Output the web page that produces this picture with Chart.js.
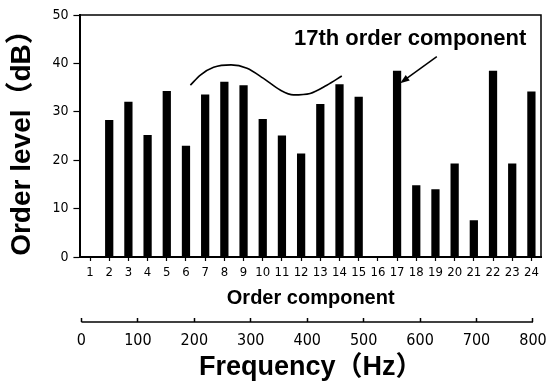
<!DOCTYPE html>
<html>
<head>
<meta charset="utf-8">
<script src="https://cdn.jsdelivr.net/npm/chart.js@4.4.1/dist/chart.umd.min.js"></script>
<style>
  html, body { margin: 0; padding: 0; background: #fff; }
</style>
</head>
<body>
<canvas id="orderChart" width="547" height="387"></canvas>
<script>
// Order components and measured levels (dB); orders 1 and 16 have no bar
const orders = ["1", "2", "3", "4", "5", "6", "7", "8", "9", "10", "11", "12",
  "13", "14", "15", "16", "17", "18", "19", "20", "21", "22", "23", "24"];
const orderLevels = [null, 28.3, 32.1, 25.2, 34.3, 23.0, 33.6, 36.2, 35.5, 28.5, 25.1, 21.4,
  31.6, 35.7, 33.1, null, 38.5, 14.8, 14.0, 19.3, 7.6, 38.5, 19.3, 34.2];
const levelTicks = [0, 10, 20, 30, 40, 50];
const freqTicks = [0, 100, 200, 300, 400, 500, 600, 700, 800];

// Hand-drawn wave over orders 6-14 (order, dB)
const waveOrder = [6.23, 6.75, 7.44, 8.35, 9.18, 10.04, 10.91, 11.6, 12.47, 13.34, 14.12];
const waveLevel = [35.5, 37.6, 39.2, 39.7, 39.0, 36.9, 34.5, 33.5, 33.8, 35.5, 37.4];

// Note and arrow pointing at the 17th order bar (order, dB)
const noteText = "17th order component";
const notePos = [17.68, 45.0];
const arrowOrder = [19.07, 17.16];
const arrowLevel = [41.4, 35.9];

const tickFont = "'Liberation Sans Narrow', 'DejaVu Sans Condensed', 'Liberation Sans', sans-serif";
const boldFont = "'Liberation Sans', 'Noto Sans CJK JP', Arial, sans-serif";

// labels may overhang the plot edges, don't shrink the plot for them
const noSidePadding = s => { s.paddingLeft = 0; s.paddingRight = 0; };

const annotations = {
  id: "annotations",
  beforeDraw(chart) {
    const ctx = chart.ctx;
    ctx.save();
    ctx.fillStyle = "#fff";
    ctx.fillRect(0, 0, chart.width, chart.height);
    ctx.restore();
  },
  afterDraw(chart) {
    const { ctx, chartArea: a, scales } = chart;
    const xl = scales.xl, y = scales.y, xf = scales.xf;
    ctx.save();
    ctx.strokeStyle = "#000";
    ctx.fillStyle = "#000";

    // top and right frame
    ctx.lineWidth = 1.5;
    ctx.beginPath();
    ctx.moveTo(a.left, a.top);
    ctx.lineTo(a.right, a.top);
    ctx.lineTo(a.right, a.bottom);
    ctx.stroke();

    // frequency axis line, only between 0 and 800 Hz
    const f0 = xf.getPixelForValue(freqTicks[0]);
    const f1 = xf.getPixelForValue(freqTicks[freqTicks.length - 1]);
    ctx.beginPath();
    ctx.moveTo(f0, xf.top);
    ctx.lineTo(f1, xf.top);
    ctx.stroke();

    // arrow
    const x1 = xl.getPixelForValue(arrowOrder[0]), y1 = y.getPixelForValue(arrowLevel[0]);
    const x2 = xl.getPixelForValue(arrowOrder[1]), y2 = y.getPixelForValue(arrowLevel[1]);
    const ang = Math.atan2(y2 - y1, x2 - x1);
    ctx.beginPath();
    ctx.moveTo(x1, y1);
    ctx.lineTo(x2 - 6 * Math.cos(ang), y2 - 6 * Math.sin(ang));
    ctx.stroke();
    ctx.beginPath();
    ctx.moveTo(x2, y2);
    ctx.lineTo(x2 - 10 * Math.cos(ang - 0.35), y2 - 10 * Math.sin(ang - 0.35));
    ctx.lineTo(x2 - 10 * Math.cos(ang + 0.35), y2 - 10 * Math.sin(ang + 0.35));
    ctx.closePath();
    ctx.fill();

    // note text
    ctx.font = "bold 22px " + boldFont;
    ctx.textAlign = "center";
    ctx.textBaseline = "middle";
    ctx.fillText(noteText, xl.getPixelForValue(notePos[0]), y.getPixelForValue(notePos[1]));
    ctx.restore();
  }
};

new Chart(document.getElementById("orderChart"), {
  type: "bar",
  data: {
    labels: orders,
    datasets: [
      {
        label: "Order level",
        data: orderLevels,
        backgroundColor: "#000",
        borderWidth: 0,
        grouped: false,
        barPercentage: 0.43,
        categoryPercentage: 1.0
      },
      {
        type: "line",
        label: "wave",
        xAxisID: "xl",
        data: waveOrder.map((o, i) => ({ x: o, y: waveLevel[i] })),
        borderColor: "#000",
        borderWidth: 1.6,
        pointRadius: 0,
        fill: false,
        cubicInterpolationMode: "monotone"
      }
    ]
  },
  options: {
    responsive: false,
    devicePixelRatio: 1,
    animation: false,
    layout: { padding: { left: 0, right: 6, top: 15, bottom: 0 } },
    plugins: { legend: { display: false }, tooltip: { enabled: false } },
    scales: {
      x: {
        position: "bottom",
        offset: true,
        afterFit: noSidePadding,
        grid: { drawOnChartArea: false, offset: false, tickLength: 4, tickColor: "#000", tickWidth: 1.2 },
        border: { color: "#000", width: 2 },
        ticks: { color: "#000", padding: 4, maxRotation: 0, autoSkip: false, font: { family: tickFont, size: 13 } },
        title: {
          display: true, text: "Order component", color: "#000",
          font: { family: boldFont, size: 20, weight: "bold" },
          padding: { top: 1.4, bottom: 12 }
        }
      },
      xf: {
        type: "linear",
        position: "bottom",
        offset: false,
        min: -1.8,
        max: 814.2,
        afterBuildTicks: s => { s.ticks = freqTicks.map(v => ({ value: v })); },
        afterFit: noSidePadding,
        grid: { drawOnChartArea: false, offset: false, tickLength: -4, tickColor: "#000", tickWidth: 1.5 },
        border: { display: false },
        ticks: { color: "#000", padding: 13.4, maxRotation: 0, font: { family: tickFont, size: 16 } },
        title: {
          display: true, text: "Frequency（Hz）", color: "#000",
          font: { family: boldFont, size: 27, weight: "bold" },
          padding: { top: -12.2, bottom: 2.8 }
        }
      },
      xl: {
        type: "linear",
        display: false,
        offset: false,
        min: 0.5,
        max: 24.5
      },
      y: {
        min: 0,
        max: 50,
        afterBuildTicks: s => { s.ticks = levelTicks.map(v => ({ value: v })); },
        grid: { drawOnChartArea: false, tickLength: 7, tickColor: "#000", tickWidth: 1.2 },
        border: { color: "#000", width: 2 },
        ticks: { color: "#000", padding: 5, font: { family: tickFont, size: 14 } },
        title: {
          display: true, text: "Order level（dB）", color: "#000",
          font: { family: boldFont, size: 28, weight: "bold" },
          padding: { top: 5.2, bottom: 8.6 }
        }
      }
    }
  },
  plugins: [annotations]
});
</script>
</body>
</html>
